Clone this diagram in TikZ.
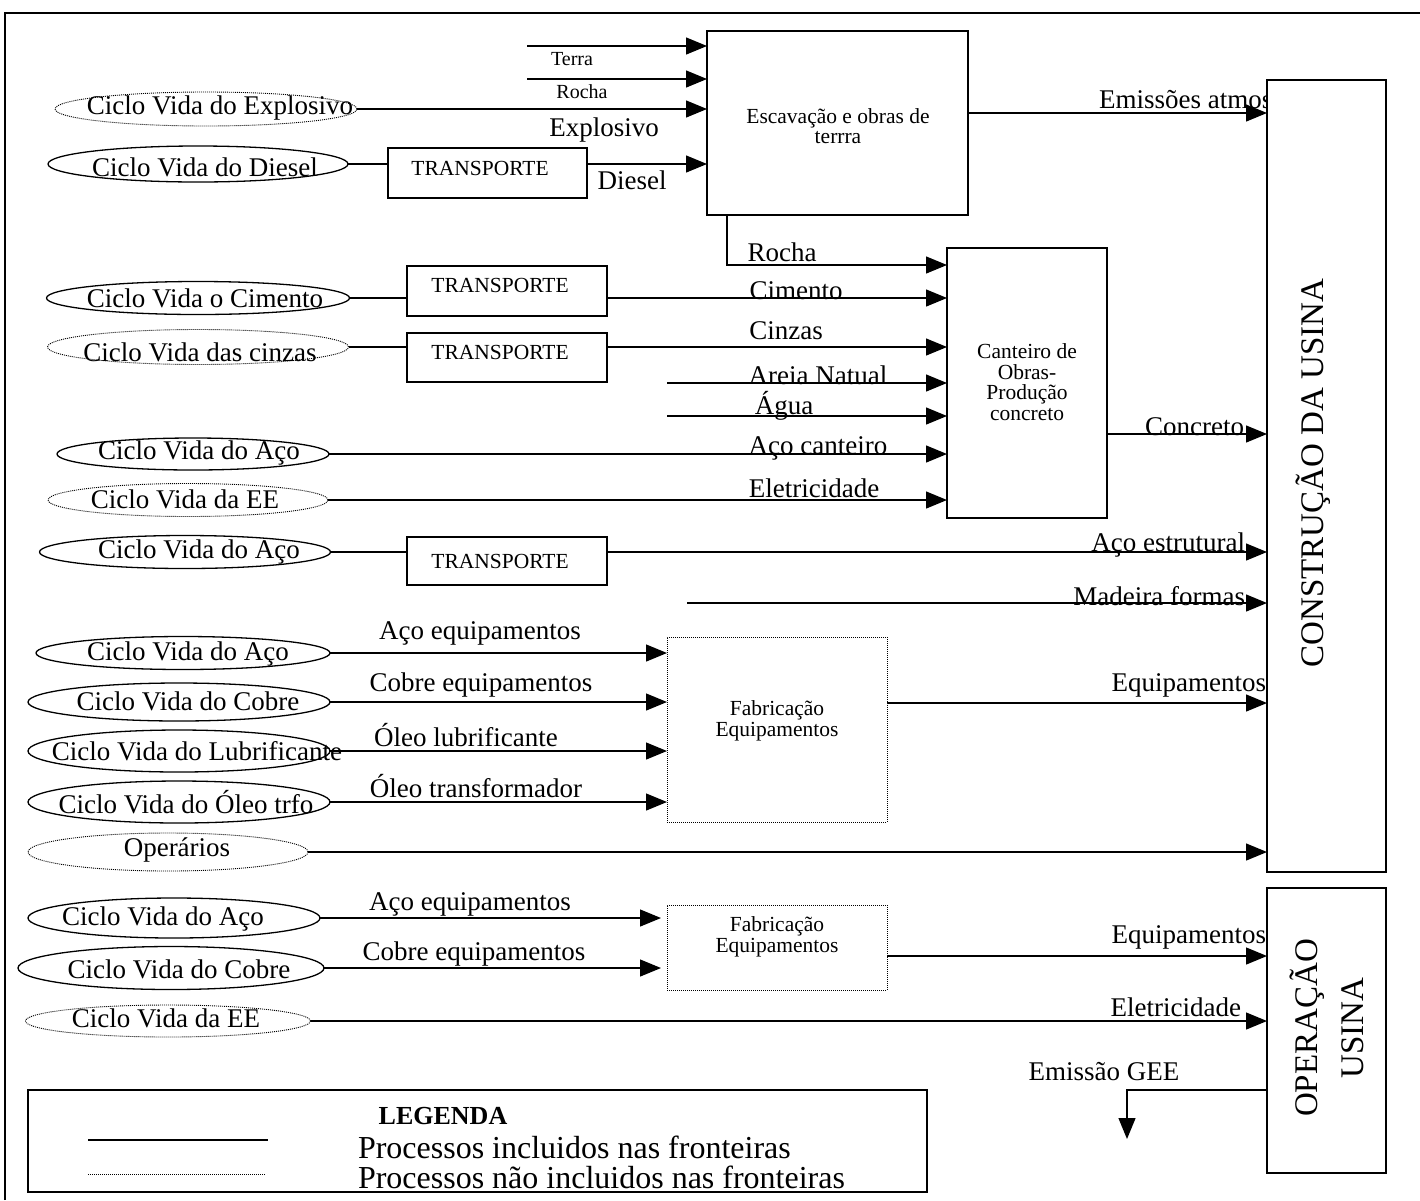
\documentclass[tikz,border=0pt]{standalone}
\usepackage{fontspec}
\setmainfont{Liberation Serif}
\usetikzlibrary{arrows.meta,shapes.geometric,calc}
\begin{document}
\begin{tikzpicture}[x=1pt,y=-1pt,
  every node/.style={inner sep=0pt, outer sep=0pt},
  lbl/.style={font=\fontsize{27}{30}\selectfont},
  tiny/.style={font=\fontsize{20}{22}\selectfont},
  small/.style={font=\fontsize{21.5}{20.5}\selectfont, align=center},
  legtxt/.style={anchor=west, font=\fontsize{32}{34}\selectfont},
  ell/.style={draw, ellipse, line width=1.3pt},
  dell/.style={draw, ellipse, line width=0.9pt, dash pattern=on 1pt off 1pt},
  boxs/.style={draw, rectangle, line width=1.3pt, fill=white},
  dbox/.style={draw, rectangle, line width=0.9pt, dash pattern=on 1pt off 1pt},
  conn/.style={line width=1.3pt},
  arr/.style={conn, -{Triangle[length=21pt,width=17pt]}},
]
\useasboundingbox (0,0) rectangle (1420,1200);
\fill[white] (0,0) rectangle (1420,1200);
\draw[line width=1.3pt] (5,1200) -- (5,13) -- (1420,13);

% label clipped by the box
\node[lbl, anchor=west] (lemis) at (1099,100) {Emissões atmos};

% boxes
\node[boxs, minimum width=261pt, minimum height=184pt] (esc) at (837.5,123) {};
\node[boxs, minimum width=199pt, minimum height=50pt] (tr1) at (487.5,173) {};
\node[boxs, minimum width=119pt, minimum height=792pt] (cons) at (1326.5,476) {};
\node[boxs, minimum width=160pt, minimum height=270pt] (cant) at (1027,383) {};
\node[boxs, minimum width=200pt, minimum height=50pt] (tr2) at (507,291) {};
\node[boxs, minimum width=200pt, minimum height=49pt] (tr3) at (507,357.5) {};
\node[boxs, minimum width=200pt, minimum height=48pt] (tr4) at (507,561) {};
\node[dbox, minimum width=220pt, minimum height=185pt] (fab1) at (777,729.5) {};
\node[boxs, minimum width=119pt, minimum height=285pt] (oper) at (1326.5,1030.5) {};
\node[dbox, minimum width=220pt, minimum height=85pt] (fab2) at (777,947.5) {};
\node[boxs, minimum width=899pt, minimum height=102pt] (leg) at (477.5,1141) {};

% box texts
\node[small] (tesc) at (838,126) {Escavação e obras de\\terrra};
\node[small] (ttr1) at (480,168) {TRANSPORTE};
\node[small] (ttr2) at (500,285) {TRANSPORTE};
\node[small] (ttr3) at (500,352) {TRANSPORTE};
\node[small] (ttr4) at (500,561) {TRANSPORTE};
\node[small] (tcant) at (1027,382) {Canteiro de\\Obras-\\Produção\\concreto};
\node[small] (tfab1) at (777,721) {Fabricação\\Equipamentos};
\node[small] (tfab2) at (777,937) {Fabricação\\Equipamentos};
\node[rotate=90, font=\fontsize{33}{36}\selectfont] (tcons) at (1313,473) {CONSTRUÇÃO DA USINA};
\node[rotate=90, align=center, font=\fontsize{33}{46}\selectfont] (toper) at (1327,1028) {OPERAÇÃO\\USINA};

% ellipses
\node[dell, minimum width=302pt, minimum height=34pt] (eexp) at (206,109) {};
\node[ell, minimum width=300pt, minimum height=36pt] (edie) at (198,164) {};
\node[ell, minimum width=303pt, minimum height=33pt] (ecim) at (198,298) {};
\node[dell, minimum width=301pt, minimum height=35pt] (ecin) at (198,347) {};
\node[ell, minimum width=272pt, minimum height=32pt] (eaco1) at (193,454) {};
\node[dell, minimum width=280pt, minimum height=33pt] (eee1) at (188,500) {};
\node[ell, minimum width=291pt, minimum height=33pt] (eaco2) at (185,552) {};
\node[ell, minimum width=294pt, minimum height=33pt] (eaco3) at (183,653) {};
\node[ell, minimum width=302pt, minimum height=38pt] (ecob) at (179,702) {};
\node[ell, minimum width=302pt, minimum height=42pt] (elub) at (179,751) {};
\node[ell, minimum width=302pt, minimum height=42pt] (eole) at (179,802) {};
\node[dell, minimum width=280pt, minimum height=38pt] (eop) at (168,852) {};
\node[ell, minimum width=292pt, minimum height=40pt] (eaco4) at (174,918) {};
\node[ell, minimum width=306pt, minimum height=43pt] (ecob2) at (171,968) {};
\node[dell, minimum width=285pt, minimum height=32pt] (eee2) at (168,1021) {};

% ellipse texts
\node[lbl] (texp) at (220,108) {Ciclo Vida do Explosivo};
\node[lbl] (tdie) at (205,167) {Ciclo Vida do Diesel};
\node[lbl] (tcim) at (205,298) {Ciclo Vida o Cimento};
\node[lbl] (tcin) at (200,352) {Ciclo Vida das cinzas};
\node[lbl] (taco1) at (199,453) {Ciclo Vida do Aço};
\node[lbl] (tee1) at (185,499) {Ciclo Vida da EE};
\node[lbl] (taco2) at (199,552) {Ciclo Vida do Aço};
\node[lbl] (taco3) at (188,654) {Ciclo Vida do Aço};
\node[lbl] (tcob) at (188,701) {Ciclo Vida do Cobre};
\node[lbl] (tlub) at (197,751) {Ciclo Vida do Lubrificante};
\node[lbl] (tole) at (186,802) {Ciclo Vida do Óleo trfo};
\node[lbl] (top) at (177,850) {Operários};
\node[lbl] (taco4) at (163,919) {Ciclo Vida do Aço};
\node[lbl] (tcob2) at (179,969) {Ciclo Vida do Cobre};
\node[lbl] (tee2) at (166,1018) {Ciclo Vida da EE};

% free ends
\coordinate (cterra) at (527,46);
\coordinate (crocha) at (527,79);
\coordinate (crk) at (727,265);
\coordinate (careia) at (667,383);
\coordinate (cagua) at (667,416);
\coordinate (cmad) at (687,603);
\coordinate (cgee) at (1127,1090);
\coordinate (cgeeend) at (1127,1139);

% connectors to Escavacao
\draw[arr] (cterra) -- (cterra -| esc.west);
\draw[arr] (crocha) -- (crocha -| esc.west);
\draw[arr] (eexp.east) -- (eexp.east -| esc.west);
\draw[conn] (edie.east) -- (edie.east -| tr1.west);
\draw[arr] (edie.east -| tr1.east) -- (edie.east -| esc.west);
\draw[arr] ([yshift=10pt]esc.east) -- ([yshift=10pt]esc.east -| cons.west);

% connectors to Canteiro
\draw[arr] (esc.south -| crk) -- (crk) -- (crk -| cant.west);
\draw[conn] (ecim.east) -- (ecim.east -| tr2.west);
\draw[arr] (ecim.east -| tr2.east) -- (ecim.east -| cant.west);
\draw[conn] (ecin.east) -- (ecin.east -| tr3.west);
\draw[arr] (ecin.east -| tr3.east) -- (ecin.east -| cant.west);
\draw[arr] (careia) -- (careia -| cant.west);
\draw[arr] (cagua) -- (cagua -| cant.west);
\draw[arr] (eaco1.east) -- (eaco1.east -| cant.west);
\draw[arr] (eee1.east) -- (eee1.east -| cant.west);
\draw[arr] (cant.east |- 0,434) -- (cons.west |- 0,434);

% structural steel, wood
\draw[conn] (eaco2.east) -- (eaco2.east -| tr4.west);
\draw[arr] (eaco2.east -| tr4.east) -- (eaco2.east -| cons.west);
\draw[arr] (cmad) -- (cmad -| cons.west);

% Fabricacao 1
\draw[arr] (eaco3.east) -- (eaco3.east -| fab1.west);
\draw[arr] (ecob.east) -- (ecob.east -| fab1.west);
\draw[arr] (elub.east) -- (elub.east -| fab1.west);
\draw[arr] (eole.east) -- (eole.east -| fab1.west);
\draw[arr] (fab1.east |- 0,703) -- (cons.west |- 0,703);
\draw[arr] (eop.east) -- (eop.east -| cons.west);

% Operacao
\draw[arr, shorten >=6pt] (eaco4.east) -- (eaco4.east -| fab2.west);
\draw[arr, shorten >=6pt] (ecob2.east) -- (ecob2.east -| fab2.west);
\draw[arr] (fab2.east |- 0,956) -- (oper.west |- 0,956);
\draw[arr] (eee2.east) -- (eee2.east -| oper.west);
\draw[arr] (oper.west |- cgee) -- (cgee) -- (cgeeend);

% connector labels
\node[tiny] (lterra) at (572,59) {Terra};
\node[tiny] (lrocha) at (582,92) {Rocha};
\node[lbl] (lexp) at (604,130) {Explosivo};
\node[lbl] (ldie) at (632,180) {Diesel};
\node[lbl] (lrk) at (782,252) {Rocha};
\node[lbl] (lcim) at (796,291) {Cimento};
\node[lbl] (lcin) at (786,331) {Cinzas};
\node[lbl] (lare) at (818,375) {Areia Natual};
\node[lbl] (lagu) at (784,406) {Água};
\node[lbl] (laco) at (818,448) {Aço canteiro};
\node[lbl] (lele) at (814,488) {Eletricidade};
\node[lbl, anchor=east] (lconc) at (1244,427) {Concreto};
\node[lbl, anchor=east] (lest) at (1245,545) {Aço estrutural};
\node[lbl, anchor=east] (lmad) at (1245,596) {Madeira formas};
\node[lbl] (laeq) at (480,633) {Aço equipamentos};
\node[lbl] (lceq) at (481,685) {Cobre equipamentos};
\node[lbl] (llub) at (466,735) {Óleo lubrificante};
\node[lbl] (ltrf) at (476,786) {Óleo transformador};
\node[lbl, anchor=east] (leq1) at (1266,685) {Equipamentos};
\node[lbl] (laeq2) at (470,904) {Aço equipamentos};
\node[lbl] (lceq2) at (474,954) {Cobre equipamentos};
\node[lbl, anchor=east] (leq2) at (1266,937) {Equipamentos};
\node[lbl, anchor=east] (lele2) at (1241,1007) {Eletricidade};
\node[lbl] (lgee) at (1104,1072) {Emissão GEE};

% legend
\node[font=\fontsize{26}{28}\selectfont\bfseries] (legt) at (443,1116) {LEGENDA};
\coordinate (ls1) at (88,1140);
\coordinate (ls2) at (268,1140);
\coordinate (ld1) at (88,1174);
\coordinate (ld2) at (265,1174);
\draw[line width=1.6pt] (ls1) -- (ls2);
\draw[line width=0.9pt, dash pattern=on 1pt off 1pt] (ld1) -- (ld2);
\node[legtxt] (leg1) at (358,1147) {Processos incluidos nas fronteiras};
\node[legtxt] (leg2) at (358,1177) {Processos não incluidos nas fronteiras};
\end{tikzpicture}
\end{document}
